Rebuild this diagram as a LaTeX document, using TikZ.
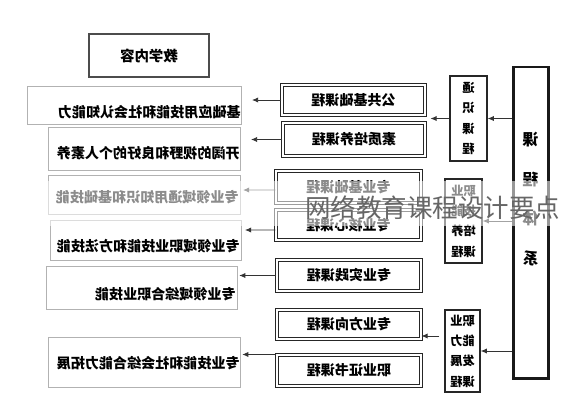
\documentclass[tikz,border=0pt]{standalone}
\usepackage{fontspec}
\setmainfont{Noto Sans CJK SC}
\usepackage{graphicx}
\usetikzlibrary{arrows.meta}
\newcommand{\mirr}[1]{\reflectbox{#1}}
\newcommand{\vstack}[1]{\reflectbox{\parbox{2em}{\centering #1}}}
\tikzset{
  sz/.style 2 args={minimum width=#1*0.02cm, minimum height=#2*0.02cm},
  lbox/.style={draw=gray!60, line width=0.5pt, inner sep=0pt},
  ltext/.style={font=\bfseries\fontsize{8}{9}\selectfont, anchor=east, inner sep=0pt},
  course/.style={draw=black!85, double=white, double distance=1.1pt, line width=0.6pt,
    inner sep=0pt, font=\bfseries\fontsize{8}{9}\selectfont},
  group/.style={draw=black!85, line width=0.8pt, inner sep=0pt,
    font=\bfseries\fontsize{7}{11.6}\selectfont},
  arr/.style={-{Latex[length=3.5pt,width=3pt]}, line width=0.5pt, black!80},
}
\begin{document}
\begin{tikzpicture}[x=0.02cm, y=-0.02cm]
					\useasboundingbox (0,0) rectangle (561,400);

					\node[draw=black!70, line width=0.6pt, sz={120}{43}, font=\bfseries\fontsize{8.2}{9}\selectfont] (top) at (149,55.5) {\mirr{教学内容}};

					\node[lbox, sz={214}{38}] (L1) at (134,105) {};
					\node[lbox, sz={192}{43}] (L2) at (144,148.5) {};
					\node[lbox, sz={192}{39}] (L3) at (144,194.5) {};
					\node[lbox, sz={191}{40}] (L4) at (145.5,240) {};
					\node[lbox, sz={191}{43}] (L5) at (141.5,287.5) {};
					\node[lbox, sz={192}{50}] (L6) at (144,362) {};

					\node[ltext] (t1) at (241,112) {\mirr{基础应用技能和社会认知能力}};
					\node[ltext] (t2) at (240,153) {\mirr{开阔的视野和良好的个人素养}};
					\node[ltext] (t3) at (239,197) {\mirr{专业领域通用知识和基础技能}};
					\node[ltext] (t4) at (240,246) {\mirr{专业领域职业技能和方法技能}};
					\node[ltext] (t5) at (236,294) {\mirr{专业领域综合职业技能}};
					\node[ltext] (t6) at (240,363) {\mirr{专业技能和社会综合能力拓展}};

					\node[course, sz={143}{30}] (M1) at (353.5,100) {\mirr{公共基础课程}};
					\node[course, sz={142}{33}] (M2) at (354,139.5) {\mirr{素质培养课程}};
					\node[course, sz={145}{32}] (M3) at (348.5,187) {\mirr{专业基础课程}};
					\node[course, sz={145}{30}] (M4) at (348.5,225) {\mirr{专业核心课程}};
					\node[course, sz={144}{31}] (M5) at (349,275.5) {\mirr{专业实践课程}};
					\node[course, sz={144}{29}] (M6) at (349,324.5) {\mirr{专业方向课程}};
					\node[course, sz={144}{31}] (M7) at (349,370.5) {\mirr{职业证书课程}};

					\node[group, sz={37}{85}] (G1) at (468.5,118.5) {\vstack{通\\识\\课\\程}};
					\node[group, sz={37}{84}] (G2) at (463.5,221) {\vstack{职业\\技能\\培养\\课程}};
					\node[group, sz={35}{82}] (G3) at (462.5,351) {\vstack{职业\\能力\\发展\\课程}};

					\node[draw=black!90, line width=1.7pt, sz={35}{311}] (sys) at (530.5,222.5) {};
					\node[inner sep=0pt, font=\bfseries\fontsize{9}{22.7}\selectfont] (systext) at (530.5,199) {\vstack{课\\程\\体\\系}};

					\draw[arr] (sys.west |- G1) -- (G1.east);
					\draw[arr] (sys.west |- G2) -- (G2.east);
					\draw[arr] (sys.west |- G3) -- (G3.east);
					\draw[arr, shorten >=2.8pt] (G1.west) -- (M1.east |- G1.west);
					\draw[arr] ([shift={(-5,-15)}]G3.west) -- (M6.east |- 0,336);

					\draw[arr, shorten >=6pt] (M1.west) -- (L1.east |- M1.west);
					\draw[arr, shorten >=6pt] (M2.west) -- (L2.east |- M2.west);
					\draw[arr, shorten >=1.5pt] ([yshift=-0.06cm]M3.west) -- (L3.east |- 0,190);
					\draw[arr, shorten >=2pt] ([yshift=-0.1cm]M4.west) -- (L4.east |- 0,230);
					\draw[arr, shorten >=1pt] (M5.west) -- (L5.east |- M5.west);
					\draw[arr, shorten >=1pt] (M7.north west) -- (L6.east |- M7.north west);

					\fill[white, opacity=0.55] (0,181) rectangle (561,226);
					\node[anchor=west, inner sep=0pt, text=black!60, font=\fontsize{14.5}{16}\selectfont] (mark) at (305,208) {网络教育课程设计要点};

\end{tikzpicture}
\end{document}
